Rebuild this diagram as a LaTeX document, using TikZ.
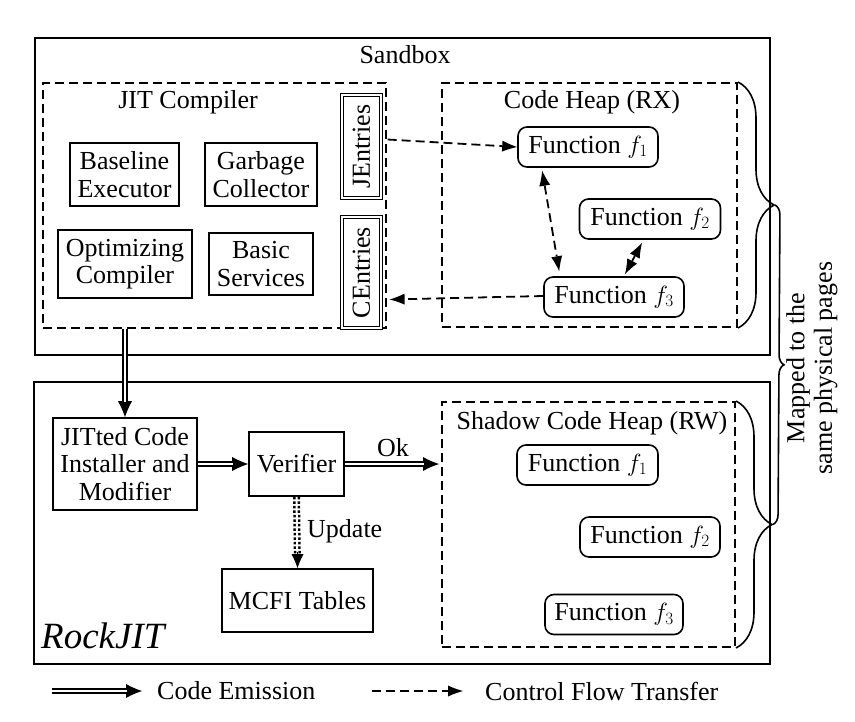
\documentclass[tikz,border=0pt]{standalone}
\usepackage{fontspec}
\setmainfont{Liberation Serif}
\usetikzlibrary{arrows.meta,calc,decorations.pathreplacing}
\begin{document}
\begin{tikzpicture}[x=1pt,y=-1pt,
  font=\fontsize{26}{27.5}\selectfont,
  box/.style={draw, line width=1.6pt, inner sep=0pt, align=center},
  outerbox/.style={draw, line width=2.4pt, inner sep=0pt},
  region/.style={draw, line width=2pt, dash pattern=on 9pt off 5pt, inner sep=0pt},
  func/.style={draw, line width=1.6pt, rounded corners=9pt, minimum height=40pt, inner sep=0pt},
  entry/.style={draw, double, double distance=2pt, line width=1.2pt, rotate=90, inner sep=0pt},
  cft/.style={line width=1.8pt, dash pattern=on 9pt off 5pt, -{Latex[length=15pt,width=11pt,line width=0pt]}},
  cftboth/.style={line width=1.8pt, dash pattern=on 9pt off 5pt, {Latex[length=15pt,width=11pt,line width=0pt]}-{Latex[length=15pt,width=11pt,line width=0pt]}},
  solidboth/.style={line width=1.8pt, {Latex[length=15pt,width=11pt,line width=0pt]}-{Latex[length=15pt,width=11pt,line width=0pt]}},
  emitouter/.style={line width=6.5pt, -{Latex[length=16pt,width=14pt,line width=0pt]}},
  emitinner/.style={white, line width=2.3pt, shorten >=15pt},
  updouter/.style={line width=7pt, dash pattern=on 2.5pt off 2pt, shorten >=14pt},
  updinner/.style={white, line width=2pt, shorten >=14pt},
  updtip/.style={line width=1pt, -{Latex[length=14pt,width=12pt,line width=0pt]}},
  bracestyle/.style={line width=1.6pt, decorate},
  lbl/.style={inner sep=0pt}
]
\useasboundingbox (0,0) rectangle (855,721);

% Sandbox
\node[outerbox, minimum width=735pt, minimum height=317pt] (sandbox) at (402.5,196.5) {};
\node[lbl] (sandboxlbl) at (405,55) {Sandbox};

% JIT compiler region
\node[region, minimum width=343pt, minimum height=245pt] (jit) at (214.5,205.5) {};
\node[lbl] (jitlbl) at (188,102) {JIT Compiler};
\node[box, minimum width=109pt, minimum height=63pt] (base) at (124.5,174.5) {Baseline\\Executor};
\node[box, minimum width=112pt, minimum height=63pt] (gc) at (261,174.5) {Garbage\\Collector};
\node[box, minimum width=134pt, minimum height=68pt] (opt) at (125,264) {Optimizing\\Compiler};
\node[box, minimum width=104pt, minimum height=62pt] (basic) at (261,264) {Basic\\Services};
\node[entry, minimum width=103pt, minimum height=39pt] (je) at (361.5,146.5) {JEntries};
\node[entry, minimum width=111pt, minimum height=39pt] (ce) at (361.5,272.5) {CEntries};

% Code heap
\node[region, minimum width=295pt, minimum height=244pt] (cheap) at (589.5,205) {};
\node[lbl] (cheaplbl) at (592,102) {Code Heap (RX)};
\node[func, minimum width=140pt] (f1) at (588,147) {Function $f_1$};
\node[func, minimum width=141pt] (f2) at (650,219) {Function $f_2$};
\node[func, minimum width=140pt] (f3) at (614,297) {Function $f_3$};

% (rotated entry nodes: their 'south' anchor is on the right-hand side)
\draw[cft] ($(je.south)+(6,-7)$) -- (f1.west);
\draw[cftboth] ($(f1.south west)+(25,3)$) -- ($(f3.north west)+(16,-5)$);
\draw[solidboth] ($(f2.south)+(-8,3)$) -- ($(f3.north)+(11,-2)$);
\draw[cft] ($(f3.west)+(0,-1)$) -- ($(ce.south)+(8,27)$);

% RockJIT
\node[outerbox, minimum width=736pt, minimum height=282pt] (rock) at (402,523) {};
\node[lbl, anchor=base west, font=\fontsize{37}{40}\selectfont\itshape] (rocklbl) at (41,648) {RockJIT};
\node[box, minimum width=144pt, minimum height=92pt] (inst) at (125,464) {JITted Code\\Installer and\\Modifier};
\node[box, minimum width=95pt, minimum height=64pt] (ver) at (296.5,464) {Verifier};
\node[box, minimum width=151pt, minimum height=63pt] (mcfi) at (297.5,600.5) {MCFI Tables};

% Shadow heap
\node[region, minimum width=293pt, minimum height=245pt] (shadow) at (588.5,524.5) {};
\node[lbl] (shadowlbl) at (592,423) {Shadow Code Heap (RW)};
\node[func, minimum width=141pt] (sf1) at (587.5,465) {Function $f_1$};
\node[func, minimum width=140pt] (sf2) at (650,537) {Function $f_2$};
\node[func, minimum width=138pt] (sf3) at (614,614.5) {Function $f_3$};

% Code emission arrows
\draw[emitouter] (inst.north |- jit.south) -- (inst.north);
\draw[emitinner] (inst.north |- jit.south) -- (inst.north);
\draw[emitouter] (inst.east) -- (ver.west);
\draw[emitinner] (inst.east) -- (ver.west);
\draw[emitouter] (ver.east) -- ($(ver.east -| shadow.west)+(-2,0)$);
\draw[emitinner] (ver.east) -- ($(ver.east -| shadow.west)+(-2,0)$);
\node[lbl] (oklbl) at (393,448) {Ok};

% Update arrow
\draw[updouter] (ver.south) -- (mcfi.north);
\draw[updinner] (ver.south) -- (mcfi.north);
\draw[updtip] ($(mcfi.north)+(0,-16)$) -- (mcfi.north);
\node[lbl, anchor=west] (updlbl) at (307,531) {Update};

% Braces
\draw[bracestyle, decoration={brace, amplitude=36pt}] (cheap.north east) -- (cheap.south east);
\draw[bracestyle, decoration={brace, amplitude=36pt}] (shadow.north east) -- (shadow.south east);
\coordinate (btop) at ($(cheap.east)+(37,0)$);
\coordinate (bbot) at ($(shadow.east)+(37,0)$);
\draw[bracestyle, decoration={brace, amplitude=10pt}] (btop) -- (bbot);
\node[lbl, rotate=90, align=center] (maplbl) at (812,368) {Mapped to the\\same physical pages};

% Legend
\coordinate (le1) at (52,691);
\coordinate (le2) at (142,691);
\draw[emitouter] (le1) -- (le2);
\draw[emitinner] (le1) -- (le2);
\node[lbl, anchor=west] (lelbl) at (157,691) {Code Emission};
\coordinate (lc1) at (372,691);
\coordinate (lc2) at (463,691);
\draw[cft] (lc1) -- (lc2);
\node[lbl, anchor=west] (lclbl) at (485,691) {Control Flow Transfer};
\end{tikzpicture}
\end{document}
